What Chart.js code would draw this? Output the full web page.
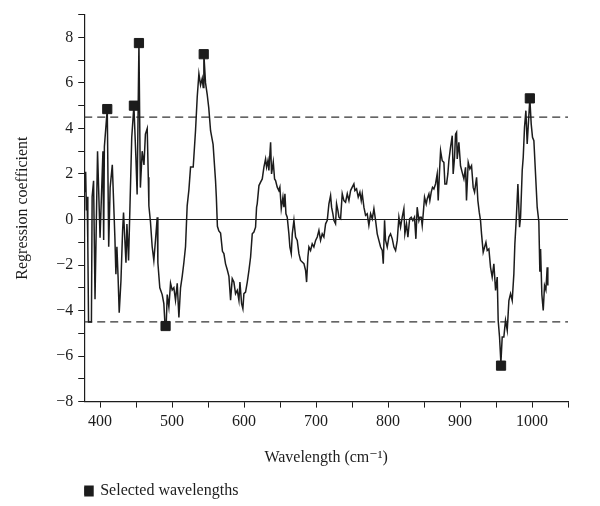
<!DOCTYPE html>
<html>
<head>
<meta charset="utf-8">
<script src="https://cdn.jsdelivr.net/npm/chart.js@4.4.0/dist/chart.umd.min.js"></script>
<style>
  html, body { margin: 0; padding: 0; background: #fff; }
</style>
</head>
<body>
<canvas id="coefChart" width="600" height="506"></canvas>
<script>
// regression coefficient spectrum
const wavelengths = [
  379, 380, 381, 382, 383, 384, 388, 389, 391, 393, 396.5, 400, 404, 405, 406, 410, 412, 414, 417,
  420.6, 422, 423.4, 425, 426.6, 429, 431.3, 432.6, 436, 437.3, 439.6, 444, 447, 449.8, 451.5, 454,
  456, 458.5, 461, 463, 465.5, 467, 467.8, 470, 472.4, 474.7, 477, 479.4, 480.3, 483, 486.3, 488.6,
  490, 491, 492, 493.3, 495.6, 497.9, 500.2, 502.5, 504.8, 507.2, 509.5, 511.8, 514.1, 516.4, 518.7,
  521, 523.4, 525.7, 529.4, 532.6, 535, 537.3, 539.6, 541.9, 543.3, 544.2, 546.5, 548.8, 551, 553.5,
  557, 560.4, 561.5, 563, 565, 567.4, 570, 572, 574.3, 576.6, 579, 581.3, 583.6, 585.9, 588.2, 590.6,
  592.9, 594.3, 596.6, 598.4, 599.8, 602.1, 604.5, 606.8, 609.1, 611.4, 613.7, 616, 617.4, 618.3,
  620.7, 623, 625.3, 627.6, 629.9, 631.3, 633.2, 634.5, 636.9, 638.2, 640.6, 642.4, 643.8, 646.1,
  648.4, 649.8, 651.7, 654, 655.4, 656.8, 658.2, 660, 662.3, 663.7, 665.6, 667, 669.3, 671.6, 673.9,
  676.2, 678.5, 680.8, 683.2, 685.5, 686.9, 688.7, 690.1, 692.4, 694.7, 697, 699.4, 701.7, 704, 706.3,
  708.6, 710.9, 713.3, 715.6, 717.9, 720.2, 721.6, 723.4, 724.8, 727.1, 728.5, 730.4, 731.8, 734.1,
  736.4, 738.7, 741, 743.4, 745.7, 748, 750.3, 752.6, 754, 756.3, 758.6, 760.9, 762.8, 764.2, 766.5,
  768.8, 771.1, 773.4, 775.8, 778.1, 780.4, 782.7, 785, 787.3, 789.7, 792, 793.4, 795.2, 796.6, 798.9,
  801.2, 803.5, 805.9, 808.2, 810.5, 812.8, 815.1, 817.4, 819.7, 822, 823.4, 825.7, 827.6, 830, 832.2,
  834.5, 836.8, 838.7, 840.5, 842.9, 844.3, 846.1, 847.5, 848.9, 850.7, 853, 854.4, 856.8, 858.1, 860,
  861.8, 863.7, 866, 868.3, 869.7, 871.6, 873, 875.3, 877.6, 879, 881.3, 883.1, 884.5, 886.8, 889.2,
  890.5, 892.4, 893.8, 895.2, 896.1, 898.4, 900.7, 903, 905.4, 907.7, 909, 911.4, 913.7, 916, 918.3,
  920.2, 923, 924.8, 926.7, 928.5, 929.9, 932.2, 934.1, 936, 937.8, 940.1, 942.4, 944.7, 947, 949.4,
  951.7, 953, 954.9, 956.8, 958.6, 960.9, 963.2, 965.6, 967.9, 970.2, 972.5, 974.8, 976.2, 978.1,
  980.4, 982.7, 984.1, 986.4, 987.8, 989.6, 991.5, 993.3, 995.2, 997, 998.9, 1000.7, 1002.6, 1004.9,
  1007.2, 1009.5, 1010.9, 1011.9, 1013.7, 1015.6, 1017.4, 1019.3, 1021.1, 1022
];
const coefficients = [
  1.2, 2.1, 0.4, 1.0, -1.1, -4.5, -4.5, 1.0, 1.7, -3.5, 3.0, -0.8, 3.0, -0.9, 3.2, 4.85, -1.2, 1.4, 2.4,
  -0.8, -2.4, -1.2, -2.5, -4.1, -2.7, -0.5, 0.3, -1.9, -0.2, -1.8, 3.6, 5.0, 2.7, 1.1, 7.75,
  1.4, 3.0, 2.4, 3.75, 4.0, 1.85, 0.6, -0.1, -1.2, -1.8, -0.9, 0.1, -1.9, -3.0, -3.3, -3.7,
  -4.5, -4.68, -4.5, -3.3, -3.85, -2.8, -3.1, -3.0, -3.55, -2.8, -4.3, -3.0, -2.5, -1.9, -1.2,
  0.6, 1.3, 2.3, 2.3, 3.9, 5.4, 6.4, 5.9, 6.2, 5.8, 7.26, 6.0, 5.5, 4.9, 3.9,
  3.3, 1.7, 1.0, -0.3, -0.5, -0.6, -1.4, -1.5, -1.95, -2.2, -2.5, -3.55, -2.6, -2.75, -3.26, -3.11,
  -3.55, -2.75, -3.7, -3.92, -3.26, -3.19, -2.75, -2.24, -1.65, -0.63, -0.55, -0.34, 0.54, 0.69,
  1.49, 1.64, 1.78, 2.3, 2.66, 2.3, 2.59, 2.15, 3.39, 2.0, 2.52, 1.78, 1.71, 1.42,
  1.27, 1.42, 0.47, 0.98, 0.54, 1.13, 0.25, 0.1, -0.63, -1.21, -1.5, -0.63, -0.04, -0.77, -0.92,
  -1.5, -1.8, -1.87, -1.94, -2.24, -2.75, -1.65, -1.21, -1.36, -1.07, -1.21, -0.92, -0.77, -0.48, -0.92,
  -0.63, -0.77, -0.19, -0.04, 0.69, 1.05, 0.54, 0.25, -0.04, -0.19, 0.69, 0.39, 0.1, 0.03,
  1.13, 0.83, 0.76, 1.13, 0.83, 1.27, 1.42, 1.56, 1.27, 1.35, 0.98, 1.2, 0.83, 1.13, 0.54,
  0.18, 0.25, -0.26, 0.25, 0.03, 0.47, -0.04, -0.63, -0.92, -1.21, -1.36, -1.94, -0.04, -0.92, -1.21,
  -0.77, -0.63, -0.85, -1.21, -1.36, -0.92, 0.1, -0.34, 0.1, 0.47, -0.63, -0.19, -0.78, 0.03, 0.1,
  -0.05, 0.1, -0.85, 0.54, -0.05, 0.1, 0.1, -0.27, 0.25, 0.98, 0.68, 0.9, 1.12, 0.83, 1.2,
  1.41, 1.34, 1.56, 2.0, 0.83, 2.15, 3.02, 2.58, 2.51, 1.56, 1.56, 2.0, 2.58, 3.17, 3.68,
  2.0, 2.73, 3.75, 3.83, 2.66, 3.39, 2.36, 2.07, 1.78, 2.29, 0.83, 2.51, 2.22, 2.36, 1.41,
  1.2, 1.85, 0.83, 0.32, -0.05, -0.63, -1.44, -1.22, -1.0, -1.36, -1.29, -2.1, -2.53, -1.95, -3.12,
  -2.53, -4.43, -5.16, -6.3, -5.16, -5.16, -4.43, -4.87, -3.56, -3.26, -3.56, -2.39, -1.07, 0.0,
  1.56, -0.34, 0.1, 2.15, 2.73, 4.05, 4.78, 3.32, 4.34, 5.3, 4.19, 3.61, 3.46, 2.0,
  0.54, -0.1, -2.3, -1.3, -3.3, -4.0, -2.9, -3.1, -2.1, -2.9
];

// selected wavelengths (square markers)
const selectedX = [410, 447, 454, 491, 544, 957, 997];
const selectedY = [4.85, 5.0, 7.75, -4.68, 7.26, -6.42, 5.32];

// threshold lines and axis ranges
const thresholds = [4.5, -4.5];
const xRange = [378, 1050];
const yRange = [-8, 9];

const serif = "'Liberation Serif', 'DejaVu Serif', serif";
const ink = '#1c1c1c';

function minus(v) {
  return String(v).replace('-', '\u2212');
}

// put the legend under the plot's left edge, like the figure
const legendShift = {
  id: 'legendShift',
  afterLayout(chart) {
    if (!chart.legend) return;
    chart.legend.left = chart.chartArea.left;
    chart.legend.top += 3;
  }
};

const spectrum = wavelengths.map((w, i) => ({ x: w, y: coefficients[i] }));
const selected = selectedX.map((w, i) => ({ x: w, y: selectedY[i] }));

const datasets = [
  {
    label: 'Selected wavelengths',
    data: selected,
    showLine: false,
    pointStyle: 'rect',
    pointRadius: 6.5,
    pointBackgroundColor: ink,
    pointBorderColor: ink,
    backgroundColor: ink,
    borderColor: ink,
    order: 0
  },
  {
    label: 'coef',
    data: spectrum,
    borderColor: ink,
    borderWidth: 1.5,
    pointRadius: 0,
    tension: 0,
    order: 1
  },
  {
    label: 'zero',
    data: [{ x: xRange[0], y: 0 }, { x: xRange[1], y: 0 }],
    borderColor: ink,
    borderWidth: 1.2,
    pointRadius: 0,
    order: 2
  }
];
thresholds.forEach(t => {
  datasets.push({
    label: 'threshold',
    data: [{ x: xRange[0], y: t }, { x: xRange[1], y: t }],
    borderColor: '#333',
    borderWidth: 1.2,
    borderDash: [8, 5],
    pointRadius: 0,
    order: 3
  });
});

new Chart(document.getElementById('coefChart'), {
  type: 'line',
  data: { datasets: datasets },
  plugins: [legendShift],
  options: {
    responsive: false,
    animation: false,
    devicePixelRatio: 1,
    layout: { padding: { left: 13, right: 32, top: 14, bottom: 0 } },
    plugins: {
      tooltip: { enabled: false },
      legend: {
        position: 'bottom',
        align: 'start',
        labels: {
          filter: item => item.text === 'Selected wavelengths',
          boxWidth: 8,
          boxHeight: 8,
          padding: 0,
          color: ink,
          font: { family: serif, size: 16 }
        }
      }
    },
    scales: {
      x: {
        type: 'linear',
        min: xRange[0],
        max: xRange[1],
        border: { display: true, color: ink, width: 1.2 },
        grid: { drawOnChartArea: false, drawTicks: true, tickLength: 6, tickColor: ink },
        ticks: {
          stepSize: 50,
          includeBounds: false,
          autoSkip: false,
          maxRotation: 0,
          padding: 5,
          color: ink,
          font: { family: serif, size: 16 },
          callback: v => (v % 100 === 0 ? String(v) : '')
        },
        title: {
          display: true,
          text: 'Wavelength (cm\u207B\u00B9)',
          color: ink,
          font: { family: serif, size: 16 },
          padding: { top: 11, bottom: 13 }
        }
      },
      y: {
        min: yRange[0],
        max: yRange[1],
        border: { display: true, color: ink, width: 1.2 },
        grid: { drawOnChartArea: false, drawTicks: true, tickLength: 6, tickColor: ink },
        ticks: {
          stepSize: 1,
          includeBounds: false,
          autoSkip: false,
          padding: 5,
          color: ink,
          font: { family: serif, size: 16 },
          callback: v => (v % 2 === 0 ? minus(v) : '')
        },
        title: {
          display: true,
          text: 'Regression coefficient',
          color: ink,
          font: { family: serif, size: 16 },
          padding: { top: 0, bottom: 19 }
        }
      }
    }
  }
});
</script>
</body>
</html>
